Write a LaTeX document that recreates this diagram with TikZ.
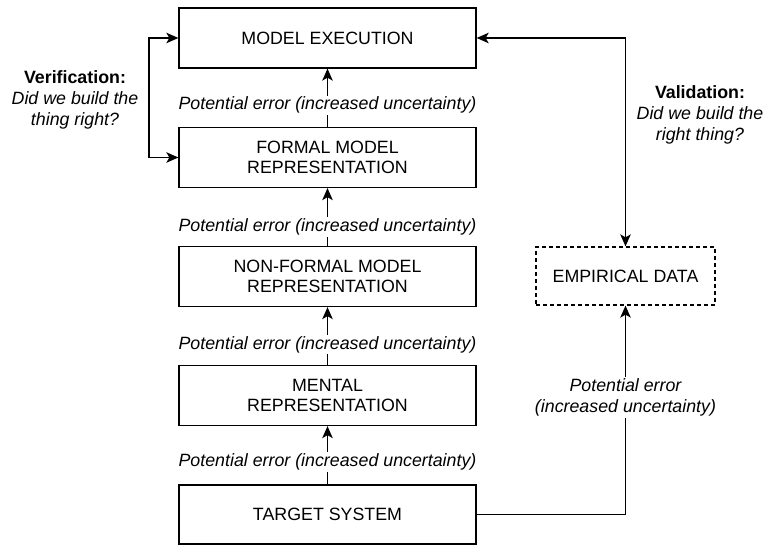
\documentclass[tikz,border=0pt]{standalone}
\usepackage{fontspec}
\setmainfont{Liberation Sans}
\usetikzlibrary{arrows.meta}

\begin{document}
\begin{tikzpicture}[x=1pt, y=-1pt,
  txt/.style={font=\fontsize{17.8}{20.5}\selectfont},
  stage/.style={txt, draw, line width=1.3pt, minimum width=297pt,
    minimum height=60pt, align=center, inner sep=0pt},
  databox/.style={stage, dashed, dash pattern=on 4pt off 3pt,
    minimum width=179pt, minimum height=58pt},
  err/.style={txt, font=\fontsize{17.8}{20.5}\selectfont\itshape,
    fill=white, inner sep=1.5pt, align=center},
  tip/.style={Stealth[length=12pt, width=10.5pt, inset=3pt]},
  link/.style={line width=1.3pt, -{Stealth[length=12pt, width=10.5pt, inset=3pt]}},
  twoway/.style={line width=1.3pt,
    {Stealth[length=12pt, width=10.5pt, inset=3pt]}-{Stealth[length=12pt, width=10.5pt, inset=3pt]}},
  note/.style={font=\fontsize{17.8}{21}\selectfont, align=center}]

\useasboundingbox (0,0) rectangle (766,545);

% Modelling chain
\node[stage] (exec)      at (327.5, 38)   {MODEL EXECUTION};
\node[stage] (formal)    at (327.5, 157.5){FORMAL MODEL\\REPRESENTATION};
\node[stage] (nonformal) at (327.5, 276.5){NON-FORMAL MODEL\\REPRESENTATION};
\node[stage] (mental)    at (327.5, 395.5){MENTAL\\REPRESENTATION};
\node[stage, minimum height=59pt] (target) at (327.5, 514.5){TARGET SYSTEM};

% Observations
\node[databox] (emp) at (625.5, 276) {EMPIRICAL DATA};

% Steps up the chain, each with a source of error
\draw[link] (formal.north)    -- node[err, pos=0.37] {Potential error (increased uncertainty)} (exec.south);
\draw[link] (nonformal.north) -- node[err, pos=0.33] {Potential error (increased uncertainty)} (formal.south);
\draw[link] (mental.north)    -- node[err, pos=0.35] {Potential error (increased uncertainty)} (nonformal.south);
\draw[link] (target.north)    -- node[err, pos=0.38] {Potential error (increased uncertainty)} (mental.south);

% Data collection from the target system
\draw[link] (target.east) -| node[err, pos=0.78] {Potential error\\(increased uncertainty)} (emp.south);

% Validation loop
\draw[twoway] (exec.east) -| (emp.north);
\node[note] (val) at (700, 115) {\textbf{Validation:}\\\textit{Did we build the}\\\textit{right thing?}};

% Verification loop
\coordinate (vx) at (149, 0);
\draw[twoway] (exec.west) -- (exec.west -| vx) |- (formal.west);
\node[note] (ver) at (75, 100) {\textbf{Verification:}\\\textit{Did we build the}\\\textit{thing right?}};

\end{tikzpicture}
\end{document}
